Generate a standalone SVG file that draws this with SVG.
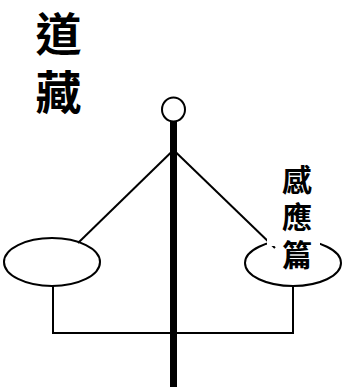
<svg xmlns="http://www.w3.org/2000/svg" width="349" height="387" viewBox="0 0 349 387">
<style>
.ln{fill:none;stroke:#000;stroke-width:2}
.t{font-family:"Noto Sans CJK TC","Noto Sans CJK SC",sans-serif;font-weight:bold;fill:#000;text-anchor:middle}
</style>
<rect width="349" height="387" fill="#fff"/>
<g id="title">
<text class="t" x="58.5" y="51" font-size="46">道</text>
<text class="t" x="58.5" y="109" font-size="46">藏</text>
</g>
<g id="connectors">
<line class="ln" x1="173.5" y1="150" x2="78" y2="243"/>
<line class="ln" x1="173.5" y1="150" x2="275" y2="248"/>
<polyline class="ln" points="53,286 53,333 293,333 293,286"/>
<line x1="173.5" y1="121" x2="173.5" y2="387" stroke="#000" stroke-width="7"/>
</g>
<g id="top">
<ellipse class="ln" cx="173.5" cy="109.5" rx="11.5" ry="12" fill="#fff"/>
</g>
<g id="left-pan">
<ellipse class="ln" cx="52" cy="262" rx="48" ry="24"/>
</g>
<g id="right-pan">
<ellipse class="ln" cx="293" cy="263" rx="48" ry="23"/>
<rect x="267" y="158" width="53" height="88" fill="#fff"/>
<text class="t" x="297" y="191" font-size="30">感</text>
<text class="t" x="297" y="228" font-size="30">應</text>
<text class="t" x="297" y="266" font-size="30">篇</text>
</g>
</svg>
